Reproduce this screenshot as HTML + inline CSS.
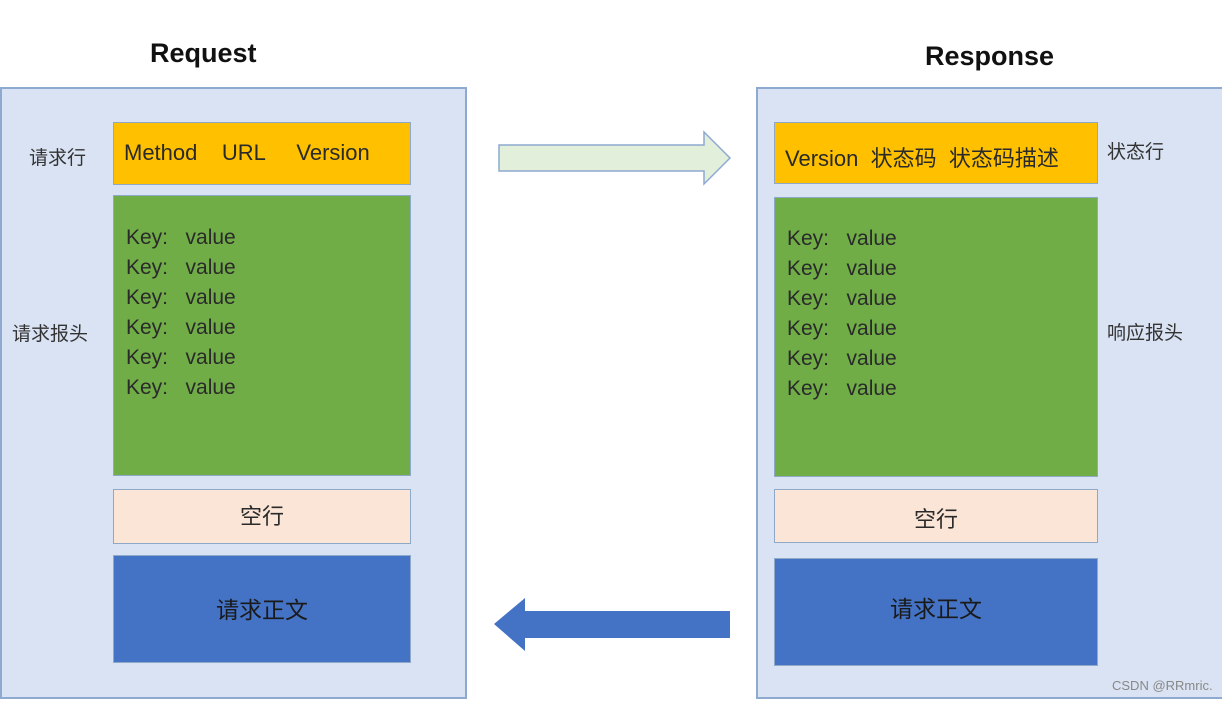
<!DOCTYPE html>
<html><head><meta charset="utf-8"><style>
body{margin:0;width:1222px;height:701px;background:#fff;position:relative;overflow:hidden;font-family:"Liberation Sans","Noto Sans CJK SC",sans-serif;}
div{position:absolute;box-sizing:border-box;}
.panel{background:#dae3f3;border:2px solid #8eaad0;}
.y{background:#ffc000;border:1px solid #8ea9c8;color:#2a2a2a;font-size:22px;}
.g{background:#70ad47;border:1px solid #8ea9c8;color:#2a2a2a;font-size:21px;line-height:30px;padding-left:12px;}
.p{background:#fbe5d6;border:1px solid #8ea9c8;color:#2a2a2a;font-size:22px;text-align:center;}
.b{background:#4472c4;border:1px solid #8ea9c8;color:#1a1a1a;font-size:23px;text-align:center;}
.lab{font-size:19px;color:#333;}
.t{font-weight:bold;font-size:27px;color:#111;}
</style></head><body>
<div class="t" style="left:150px;top:38px;">Request</div>
<div class="t" style="left:925px;top:41px;">Response</div>

<div class="panel" style="left:0;top:87px;width:467px;height:612px;"></div>
<div class="lab" style="left:29px;top:143px;">请求行</div>
<div class="lab" style="left:12px;top:319px;">请求报头</div>
<div class="y" style="left:113px;top:122px;width:298px;height:63px;line-height:60px;padding-left:10px;">Method&nbsp;&nbsp;&nbsp;&nbsp;URL&nbsp;&nbsp;&nbsp;&nbsp;&nbsp;Version</div>
<div class="g" style="left:113px;top:195px;width:298px;height:281px;padding-top:27px;">Key:&nbsp;&nbsp;&nbsp;value<br>Key:&nbsp;&nbsp;&nbsp;value<br>Key:&nbsp;&nbsp;&nbsp;value<br>Key:&nbsp;&nbsp;&nbsp;value<br>Key:&nbsp;&nbsp;&nbsp;value<br>Key:&nbsp;&nbsp;&nbsp;value</div>
<div class="p" style="left:113px;top:489px;width:298px;height:55px;line-height:54px;">空行</div>
<div class="b" style="left:113px;top:555px;width:298px;height:108px;line-height:108px;">请求正文</div>

<div class="panel" style="left:756px;top:87px;width:470px;height:612px;"></div>
<div class="lab" style="left:1107px;top:137px;">状态行</div>
<div class="lab" style="left:1107px;top:318px;">响应报头</div>
<div class="y" style="left:774px;top:122px;width:324px;height:62px;line-height:72px;padding-left:10px;">Version&nbsp;&nbsp;状态码&nbsp;&nbsp;状态码描述</div>
<div class="g" style="left:774px;top:197px;width:324px;height:280px;padding-top:26px;">Key:&nbsp;&nbsp;&nbsp;value<br>Key:&nbsp;&nbsp;&nbsp;value<br>Key:&nbsp;&nbsp;&nbsp;value<br>Key:&nbsp;&nbsp;&nbsp;value<br>Key:&nbsp;&nbsp;&nbsp;value<br>Key:&nbsp;&nbsp;&nbsp;value</div>
<div class="p" style="left:774px;top:489px;width:324px;height:54px;line-height:60px;">空行</div>
<div class="b" style="left:774px;top:558px;width:324px;height:108px;line-height:100px;">请求正文</div>
<div style="left:1112px;top:678px;font-size:13px;color:#888;">CSDN @RRmric.</div>

<svg style="position:absolute;left:0;top:0" width="1222" height="701">
<polygon points="499,145 704,145 704,132 730,158 704,184 704,171 499,171" fill="#e2efda" stroke="#8eaad0" stroke-width="1.5"/>
<polygon points="730,611 525,611 525,598 494,624 525,651 525,638 730,638" fill="#4472c4"/>
</svg>
</body></html>
